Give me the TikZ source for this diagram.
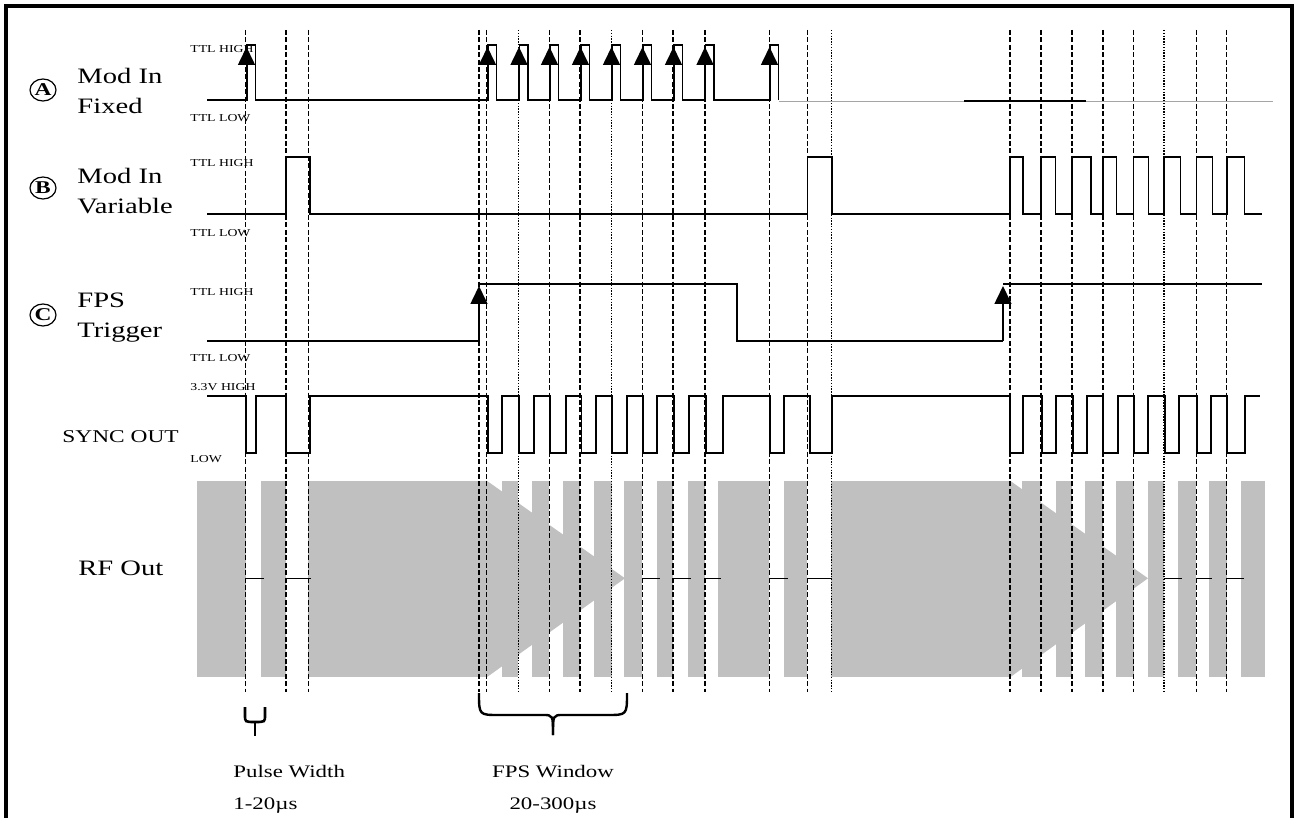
\documentclass[tikz,border=0pt]{standalone}
\usepackage{fontspec}
\setmainfont{Liberation Serif}[FakeStretch=1.3]
\usetikzlibrary{arrows.meta,shapes.geometric}
\definecolor{rfgray}{RGB}{192,192,192}
\definecolor{fadeline}{RGB}{165,165,165}

\begin{document}
\begin{tikzpicture}[x=0.5pt, y=-0.5pt,
    sig/.style={line width=0.8pt},
    trig/.style={line width=0.8pt, -{Triangle[length=9pt,width=8.5pt]}},
    guide/.style={line width=0.6pt, dash pattern=on 2.5pt off 1.2pt},
    guidedot/.style={line width=0.6pt, dash pattern=on 0.7pt off 0.7pt},
    lvl/.style={font=\fontsize{5.3}{6}\selectfont, anchor=west, inner sep=0pt},
    signame/.style={font=\fontsize{11}{15}\selectfont, anchor=west, align=left, inner sep=0pt},
    circlet/.style={ellipse, draw, line width=0.6pt, minimum width=13pt, minimum height=11pt,
        inner sep=0pt, font=\fontsize{9}{9}\selectfont\bfseries},
    note/.style={font=\fontsize{8.8}{16}\selectfont, inner sep=0pt}]
\useasboundingbox (0,0) rectangle (1297,818);

% frame
\draw[line width=1.6pt] (6,818) -- (6,6) -- (1292,6) -- (1292,818);

% RF out envelope
\fill[rfgray] (197.3,480.7) rectangle (1265.3,677.3);
\foreach \a/\b in {245.7/260.7, 286/308.3, 486.7/501.7, 518/531.7, 549.3/563.3, 580/594,
    611.7/624.4, 642.3/656.9, 673.3/687.6, 705.3/717.8, 769/784.4, 807/831.1,
    1010/1022, 1041/1055.6, 1071.5/1085.3, 1103/1115.6, 1133.5/1147.6,
    1164.2/1177.8, 1196.4/1208.9, 1226.7/1240.9}
  \fill[white] (\a,479) rectangle (\b,679);
\fill[rfgray] (486.7,480.7) -- (625,578.3) -- (486.7,677.3) -- cycle;
\fill[rfgray] (1010,480.7) -- (1148,578.3) -- (1010,677.3) -- cycle;
\foreach \a/\b in {245.7/264, 286/310.7, 642.3/660, 673.3/691, 705.3/721, 769/788,
    807/832, 1164.2/1182, 1196.4/1212.4, 1226.7/1244.4}
  \draw[sig] (\a,578.3) -- (\b,578.3);

% time marks
\foreach \x in {245.7,286,308.3,479,486.7,549.3,580,642.3,673,705,769.3,807.5,
    1010,1041,1072,1103,1133.5,1196.3,1226.7}
  \draw[guide] (\x,30) -- (\x,692);
\foreach \x in {518.3,611.7,831.7,1164}
  \draw[guidedot] (\x,30) -- (\x,692);

% A: mod in fixed
\draw[sig] (207,100) \foreach \a in {247,488,519.5,550,581,612,643,674,705.5,770}
  { -- (\a,100) -- (\a,45) -- ({\a+8.5},45) -- ({\a+8.5},100) } -- (778.5,100);
\foreach \a in {246.5,487.5,519,549.5,580.5,611.5,642.5,673.5,705,769.5}
  \draw[trig] (\a,100) -- (\a,47);
\draw[fadeline, line width=0.8pt] (778.5,101.5) -- (1273,101.5);
\draw[sig] (964,101) -- (1086,101);

% B: mod in variable
\draw[sig] (207,214) \foreach \a/\b in {286/310, 807.5/831.7, 1010/1023, 1041/1055.5,
    1072/1091, 1103/1116.5, 1133.5/1148.5, 1164/1180.5, 1196.3/1212.5, 1226.7/1244.4}
  { -- (\a,214) -- (\a,157) -- (\b,157) -- (\b,214) } -- (1262,214);

% C: FPS trigger
\draw[sig] (207,341) -- (479,341);
\draw[trig] (479,341) -- (479,286);
\draw[sig] (479,284) -- (737,284) -- (737,341) -- (1003,341);
\draw[trig] (1003,341) -- (1003,286);
\draw[sig] (1003,284) -- (1262,284);

% sync out
\draw[sig] (207,396) \foreach \a/\b in {246/256, 286/310, 488/502, 519/534, 550/566,
    581.5/596, 612/627, 643/657, 674/689, 706/723, 770/784, 810/832, 1010/1023,
    1042/1056, 1073/1087, 1103/1118, 1134/1148, 1165/1179, 1197/1211, 1227/1245}
  { -- (\a,396) -- (\a,453) -- (\b,453) -- (\b,396) } -- (1260,396);

% braces
\draw[line width=1.3pt] (245,707) -- (245,715) .. controls (245,722) .. (255,722)
  .. controls (265,722) .. (265,715) -- (265,707);
\draw[line width=1.3pt] (255,722) -- (255,736);
\draw[line width=1.2pt] (479,693) .. controls (479,715) .. (499,715) -- (543,715)
  .. controls (553,715) .. (553,735);
\draw[line width=1.2pt] (627,693) .. controls (627,715) .. (607,715) -- (563,715)
  .. controls (553,715) .. (553,735);

% row labels
\node[circlet] (circA) at (43,90) {A};
\node[signame] (nameA) at (77,91) {Mod In\\Fixed};
\node[circlet] (circB) at (43,188) {B};
\node[signame] (nameB) at (77,191) {Mod In\\Variable};
\node[circlet] (circC) at (43,315) {C};
\node[signame] (nameC) at (77,318) {FPS\\Trigger};
\node[signame, font=\fontsize{9}{9}\selectfont] (nameS) at (62,437) {SYNC OUT};
\node[signame] (nameR) at (78,568) {RF Out};

% level labels
\node[lvl] (hiA) at (190,49) {TTL HIGH};
\node[lvl] (loA) at (190,118) {TTL LOW};
\node[lvl] (hiB) at (190,163) {TTL HIGH};
\node[lvl] (loB) at (190,233) {TTL LOW};
\node[lvl] (hiC) at (190,292) {TTL HIGH};
\node[lvl] (loC) at (190,358) {TTL LOW};
\node[lvl] (hiS) at (190,387) {3.3V HIGH};
\node[lvl] (loS) at (190,459) {LOW};

% notes
\node[note, anchor=west, align=left] (pwidth) at (233,789) {Pulse Width\\1-20µs};
\node[note, align=center] (fpswin) at (553,789) {FPS Window\\20-300µs};
\end{tikzpicture}
\end{document}
